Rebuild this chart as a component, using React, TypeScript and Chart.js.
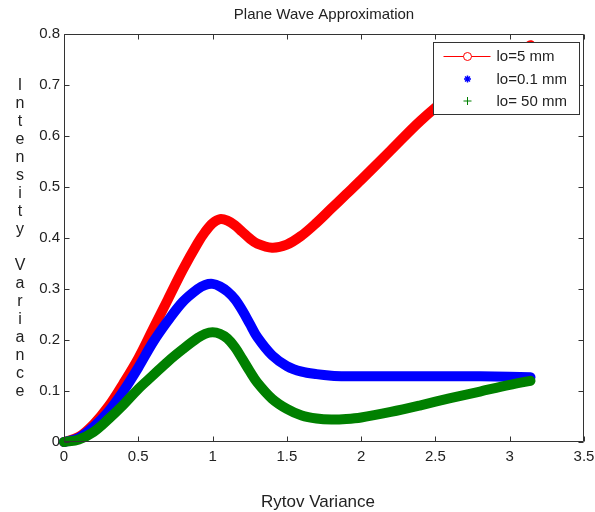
import { useEffect, useRef } from "react";
import { Chart, registerables } from "chart.js";

Chart.register(...registerables);

// Rytov variance (x) and scintillation index for three inner scales
const rytov = [
  0, 0.1, 0.2, 0.3, 0.4, 0.5, 0.6, 0.7, 0.8, 0.9, 0.95, 1.0, 1.05, 1.1, 1.15, 1.2,
  1.25, 1.3, 1.4, 1.5, 1.6, 1.7, 1.8, 1.9, 2.0, 2.2, 2.4, 2.6, 2.8, 3.0, 3.14,
];
const intensityLo5 = [
  0, 0.01, 0.035, 0.07, 0.115, 0.164, 0.222, 0.28, 0.338, 0.39, 0.412, 0.429, 0.437,
  0.434, 0.425, 0.412, 0.399, 0.389, 0.381, 0.387, 0.405, 0.43, 0.458, 0.486, 0.514,
  0.572, 0.63, 0.679, 0.718, 0.752, 0.778,
];
const intensityLo01 = [
  0, 0.008, 0.03, 0.06, 0.1, 0.146, 0.196, 0.238, 0.275, 0.3, 0.308, 0.31, 0.305,
  0.295, 0.28, 0.258, 0.232, 0.206, 0.17, 0.149, 0.138, 0.133, 0.13, 0.129, 0.129,
  0.129, 0.129, 0.129, 0.129, 0.128, 0.127,
];
const intensityLo50 = [
  0, 0.005, 0.02, 0.045, 0.073, 0.104, 0.131, 0.158, 0.182, 0.204, 0.212, 0.215,
  0.212, 0.203, 0.186, 0.163, 0.139, 0.117, 0.085, 0.065, 0.052, 0.046, 0.044,
  0.045, 0.048, 0.059, 0.072, 0.086, 0.099, 0.112, 0.12,
];

const seriesLabels = ["lo=5 mm", "lo=0.1 mm", "lo= 50 mm"];
const seriesColors = ["#ff0000", "#0000ff", "#008000"];

const xTickValues = [0, 0.5, 1, 1.5, 2, 2.5, 3, 3.5];
const yTickValues = [0, 0.1, 0.2, 0.3, 0.4, 0.5, 0.6, 0.7, 0.8];

const chartTitle = "Plane Wave Approximation";
const xAxisTitle = "Rytov Variance";
const yAxisTitle = "Intensity Variance";

const FONT = "'Liberation Sans', Arial, Helvetica, sans-serif";
const TEXT_COLOR = "#222222";
const AXIS_COLOR = "#333333";

function toPoints(values: number[]) {
  return rytov.map((x, i) => ({ x, y: values[i] }));
}

// Box around the axes with inward tick marks on all four sides
const framePlugin = {
  id: "matlabFrame",
  afterDatasetsDraw(chart: any) {
    const { ctx, chartArea, scales } = chart;
    const l = Math.round(chartArea.left) + 0.5;
    const r = Math.round(chartArea.right) - 0.5;
    const t = Math.round(chartArea.top) + 0.5;
    const b = Math.round(chartArea.bottom) - 0.5;
    const tick = 5;
    ctx.save();
    ctx.strokeStyle = AXIS_COLOR;
    ctx.lineWidth = 1;
    ctx.beginPath();
    ctx.rect(l, t, r - l, b - t);
    for (const v of xTickValues) {
      const px = Math.round(scales.x.getPixelForValue(v)) + 0.5;
      ctx.moveTo(px, b);
      ctx.lineTo(px, b - tick);
      ctx.moveTo(px, t);
      ctx.lineTo(px, t + tick);
    }
    for (const v of yTickValues) {
      const py = Math.round(scales.y.getPixelForValue(v)) + 0.5;
      ctx.moveTo(l, py);
      ctx.lineTo(l + tick, py);
      ctx.moveTo(r, py);
      ctx.lineTo(r - tick, py);
    }
    ctx.stroke();
    ctx.restore();
  },
};

// Title, axis titles (stacked letters on the y side) and the boxed legend
const decorPlugin = {
  id: "matlabDecor",
  afterDraw(chart: any) {
    const { ctx, chartArea } = chart;
    const cx = (chartArea.left + chartArea.right) / 2;
    ctx.save();
    ctx.fillStyle = TEXT_COLOR;
    ctx.textAlign = "center";
    ctx.textBaseline = "middle";

    ctx.font = `15px ${FONT}`;
    ctx.fillText(chartTitle, cx, 15);

    ctx.font = `17px ${FONT}`;
    ctx.fillText(xAxisTitle, cx - 6, 502);

    ctx.font = `16px ${FONT}`;
    const letters = yAxisTitle.split("");
    const step = 17.95;
    letters.forEach((ch, i) => {
      if (ch !== " ") ctx.fillText(ch, 20, 86 + i * step);
    });

    // legend box
    const lw = 146;
    const lh = 72;
    const lx = Math.round(chartArea.right) - 5 - lw + 0.5;
    const ly = Math.round(chartArea.top) + 8 + 0.5;
    ctx.fillStyle = "#ffffff";
    ctx.fillRect(lx, ly, lw, lh);
    ctx.strokeStyle = AXIS_COLOR;
    ctx.lineWidth = 1;
    ctx.strokeRect(lx, ly, lw, lh);

    const rowY = [ly + 14, ly + 36.5, ly + 58.5];
    const mx = lx + 34;

    // row 1: line with open circle
    ctx.strokeStyle = seriesColors[0];
    ctx.beginPath();
    ctx.moveTo(lx + 10, rowY[0]);
    ctx.lineTo(lx + 57, rowY[0]);
    ctx.stroke();
    ctx.fillStyle = "#ffffff";
    ctx.beginPath();
    ctx.arc(mx, rowY[0], 4, 0, Math.PI * 2);
    ctx.fill();
    ctx.stroke();

    // row 2: star marker
    ctx.strokeStyle = seriesColors[1];
    ctx.lineWidth = 1.5;
    ctx.beginPath();
    const s = 3.5;
    ctx.moveTo(mx - s, rowY[1]);
    ctx.lineTo(mx + s, rowY[1]);
    ctx.moveTo(mx, rowY[1] - s);
    ctx.lineTo(mx, rowY[1] + s);
    ctx.moveTo(mx - s * 0.7, rowY[1] - s * 0.7);
    ctx.lineTo(mx + s * 0.7, rowY[1] + s * 0.7);
    ctx.moveTo(mx - s * 0.7, rowY[1] + s * 0.7);
    ctx.lineTo(mx + s * 0.7, rowY[1] - s * 0.7);
    ctx.stroke();

    // row 3: plus marker
    ctx.strokeStyle = seriesColors[2];
    ctx.lineWidth = 1;
    ctx.beginPath();
    ctx.moveTo(mx - 4, rowY[2]);
    ctx.lineTo(mx + 4, rowY[2]);
    ctx.moveTo(mx, rowY[2] - 4);
    ctx.lineTo(mx, rowY[2] + 4);
    ctx.stroke();

    ctx.fillStyle = TEXT_COLOR;
    ctx.font = `15px ${FONT}`;
    ctx.textAlign = "left";
    seriesLabels.forEach((label, i) => {
      ctx.fillText(label, lx + 63, rowY[i] + 0.5);
    });
    ctx.restore();
  },
};

export default function App() {
  const canvasRef = useRef<HTMLCanvasElement | null>(null);

  useEffect(() => {
    const canvas = canvasRef.current;
    if (!canvas) return;
    const series = [intensityLo5, intensityLo01, intensityLo50];
    const chart = new Chart(canvas, {
      type: "line",
      data: {
        datasets: series.map((values, i) => ({
          label: seriesLabels[i],
          data: toPoints(values),
          borderColor: seriesColors[i],
          backgroundColor: seriesColors[i],
          borderWidth: 10,
          borderCapStyle: "round",
          borderJoinStyle: "round",
          pointRadius: 0,
          fill: false,
          tension: 0.35,
          clip: false,
          order: series.length - i,
        })),
      },
      options: {
        responsive: false,
        animation: false,
        layout: { padding: { top: 34, right: 11, left: 0, bottom: 0 } },
        plugins: {
          legend: { display: false },
          title: { display: false },
          tooltip: { enabled: false },
        },
        scales: {
          x: {
            type: "linear",
            min: 0,
            max: 3.5,
            afterBuildTicks: (scale: any) => {
              scale.ticks = xTickValues.map((value) => ({ value }));
            },
            afterFit: (scale: any) => {
              scale.height = 70;
              scale.paddingLeft = 0;
              scale.paddingRight = 0;
            },
            grid: { display: false, drawTicks: false },
            border: { display: false },
            ticks: {
              autoSkip: false,
              maxRotation: 0,
              padding: 6,
              color: TEXT_COLOR,
              font: { family: FONT, size: 15 },
              callback: (v: any) => String(v),
            },
          },
          y: {
            type: "linear",
            min: 0,
            max: 0.8,
            afterBuildTicks: (scale: any) => {
              scale.ticks = yTickValues.map((value) => ({ value }));
            },
            afterFit: (scale: any) => {
              scale.width = 64;
              scale.paddingTop = 0;
              scale.paddingBottom = 0;
            },
            grid: { display: false, drawTicks: false },
            border: { display: false },
            ticks: {
              autoSkip: false,
              padding: 4,
              color: TEXT_COLOR,
              font: { family: FONT, size: 15 },
              callback: (v: any) => String(v),
            },
          },
        },
      },
      plugins: [framePlugin, decorPlugin],
    });
    return () => chart.destroy();
  }, []);

  return (
    <div style={{ position: "absolute", left: 0, top: 0, width: 595, height: 512, background: "#ffffff" }}>
      <canvas ref={canvasRef} width={595} height={512} style={{ display: "block" }} />
    </div>
  );
}
